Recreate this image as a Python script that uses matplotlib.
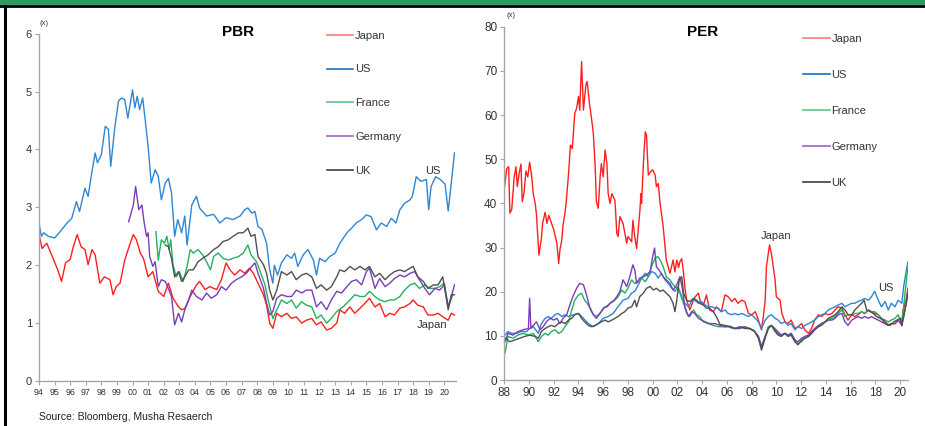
import numpy as np
import matplotlib
matplotlib.use("Agg")
import matplotlib.pyplot as plt
from matplotlib.patches import Rectangle
from matplotlib.lines import Line2D

plt.rcParams['font.family'] = ['Liberation Sans', 'DejaVu Sans']

# ---------------- PBR (left panel) ----------------
pbr_jp_t = [1994.0, 1994.2, 1994.5, 1994.9, 1995.2, 1995.45, 1995.7, 1996.0, 1996.2, 1996.45, 1996.7, 1996.95,
            1997.15, 1997.4, 1997.6, 1997.9, 1998.2, 1998.55, 1998.75, 1998.95, 1999.2, 1999.5, 1999.85, 2000.05,
            2000.25, 2000.5, 2000.7, 2001.0, 2001.3, 2001.65, 2002.0, 2002.3, 2002.6, 2002.95, 2003.15, 2003.35,
            2003.7, 2004.1, 2004.3, 2004.65, 2004.95, 2005.4, 2005.7, 2006.0, 2006.25, 2006.55, 2006.9, 2007.2,
            2007.5, 2007.75, 2008.05, 2008.4, 2008.6, 2008.8, 2009.0, 2009.25, 2009.55, 2009.9, 2010.2, 2010.5,
            2010.85, 2011.15, 2011.5, 2011.8, 2012.1, 2012.45, 2012.75, 2013.1, 2013.3, 2013.6, 2013.95, 2014.25,
            2014.6, 2014.9, 2015.2, 2015.55, 2015.85, 2016.2, 2016.5, 2016.8, 2017.15, 2017.45, 2017.8, 2018.0,
            2018.3, 2018.65, 2018.95, 2019.3, 2019.6, 2019.9, 2020.25, 2020.45, 2020.65]
pbr_jp = [2.53, 2.29, 2.38, 2.12, 1.92, 1.72, 2.04, 2.10, 2.32, 2.53, 2.32, 2.27,
          2.01, 2.27, 2.18, 1.69, 1.80, 1.75, 1.49, 1.63, 1.69, 2.09, 2.38, 2.53,
          2.44, 2.21, 2.12, 1.80, 1.89, 1.55, 1.46, 1.69, 1.43, 1.28, 1.23, 1.25,
          1.46, 1.66, 1.72, 1.58, 1.63, 1.58, 1.75, 2.04, 1.92, 1.83, 1.92, 1.86,
          1.95, 1.86, 1.69, 1.49, 1.31, 1.00, 0.91, 1.17, 1.11, 1.17, 1.08, 1.11,
          1.00, 1.05, 1.08, 0.97, 1.02, 0.88, 0.91, 1.00, 1.23, 1.17, 1.28, 1.17,
          1.26, 1.34, 1.43, 1.28, 1.34, 1.11, 1.17, 1.14, 1.26, 1.28, 1.34, 1.40,
          1.31, 1.28, 1.14, 1.14, 1.17, 1.11, 1.05, 1.17, 1.14]

pbr_us_t = [1994.0, 1994.15, 1994.3, 1994.6, 1995.0, 1995.35, 1995.8, 1996.1, 1996.4, 1996.6, 1996.95, 1997.15,
            1997.4, 1997.6, 1997.75, 1998.0, 1998.25, 1998.45, 1998.6, 1998.85, 1999.1, 1999.3, 1999.5, 1999.7,
            2000.0, 2000.15, 2000.3, 2000.45, 2000.65, 2000.8, 2001.0, 2001.2, 2001.45, 2001.65, 2001.85, 2002.1,
            2002.3, 2002.5, 2002.7, 2002.9, 2003.15, 2003.35, 2003.5, 2003.8, 2004.1, 2004.3, 2004.75, 2005.2,
            2005.6, 2006.0, 2006.45, 2006.9, 2007.2, 2007.4, 2007.65, 2007.85, 2008.05, 2008.3, 2008.6, 2008.8,
            2009.0, 2009.1, 2009.3, 2009.55, 2009.9, 2010.2, 2010.4, 2010.6, 2010.95, 2011.25, 2011.6, 2011.8,
            2012.0, 2012.35, 2012.65, 2013.0, 2013.3, 2013.75, 2014.05, 2014.35, 2014.7, 2015.0, 2015.3, 2015.65,
            2015.95, 2016.3, 2016.6, 2016.9, 2017.15, 2017.45, 2017.8, 2017.95, 2018.2, 2018.5, 2018.85, 2019.0,
            2019.15, 2019.45, 2019.75, 2020.05, 2020.25, 2020.4, 2020.65]
pbr_us = [2.73, 2.50, 2.56, 2.50, 2.47, 2.58, 2.73, 2.81, 3.10, 2.93, 3.33, 3.19,
          3.62, 3.94, 3.77, 3.91, 4.40, 4.35, 3.71, 4.35, 4.84, 4.89, 4.86, 4.54,
          5.03, 4.72, 4.92, 4.69, 4.89, 4.54, 4.05, 3.42, 3.65, 3.54, 3.13, 3.42,
          3.50, 3.25, 2.50, 2.79, 2.56, 2.85, 2.35, 3.04, 3.19, 2.99, 2.85, 2.88,
          2.73, 2.82, 2.79, 2.85, 2.96, 2.99, 2.90, 2.93, 2.67, 2.62, 2.38, 1.92,
          1.69, 2.00, 1.83, 2.04, 2.18, 2.12, 2.21, 1.98, 2.18, 2.27, 2.09, 1.83,
          2.12, 2.06, 2.15, 2.21, 2.38, 2.56, 2.64, 2.73, 2.79, 2.87, 2.84, 2.61,
          2.73, 2.67, 2.81, 2.73, 2.96, 3.07, 3.13, 3.19, 3.53, 3.45, 3.48, 2.96,
          3.36, 3.53, 3.48, 3.40, 2.94, 3.30, 3.94]

pbr_fr_t = [2001.5, 2001.65, 2001.85, 2002.05, 2002.2, 2002.35, 2002.45, 2002.6, 2002.8, 2003.0, 2003.25, 2003.5,
            2003.7, 2003.9, 2004.2, 2004.5, 2004.75, 2005.0, 2005.2, 2005.5, 2005.8, 2006.15, 2006.45, 2006.8,
            2007.1, 2007.4, 2007.6, 2007.95, 2008.15, 2008.5, 2008.7, 2009.0, 2009.25, 2009.55, 2009.9, 2010.2,
            2010.5, 2010.85, 2011.15, 2011.5, 2011.8, 2012.1, 2012.45, 2012.75, 2013.1, 2013.5, 2013.95, 2014.25,
            2014.6, 2014.9, 2015.2, 2015.55, 2015.85, 2016.2, 2016.5, 2016.8, 2017.15, 2017.45, 2017.8, 2018.1,
            2018.4, 2018.75, 2019.05, 2019.4, 2019.7, 2020.0, 2020.25, 2020.55]
pbr_fr = [2.58, 2.09, 2.44, 2.38, 2.50, 2.27, 2.44, 2.00, 1.80, 1.89, 1.72, 1.98,
          2.27, 2.21, 2.27, 2.18, 2.06, 1.92, 2.15, 2.21, 2.12, 2.09, 2.12, 2.15,
          2.21, 2.35, 2.18, 2.06, 1.92, 1.66, 1.40, 1.08, 1.23, 1.40, 1.34, 1.40,
          1.26, 1.37, 1.31, 1.28, 1.08, 1.14, 1.00, 1.08, 1.20, 1.28, 1.40, 1.49,
          1.46, 1.46, 1.55, 1.46, 1.40, 1.37, 1.40, 1.40, 1.46, 1.57, 1.66, 1.69,
          1.60, 1.66, 1.60, 1.60, 1.63, 1.69, 1.28, 1.49]

pbr_de_t = [1999.75, 2000.05, 2000.2, 2000.4, 2000.6, 2000.75, 2000.9, 2001.0, 2001.1, 2001.3, 2001.45, 2001.65,
            2001.85, 2002.1, 2002.3, 2002.5, 2002.7, 2002.95, 2003.15, 2003.35, 2003.6, 2003.8, 2004.1, 2004.45,
            2004.75, 2005.05, 2005.4, 2005.7, 2006.0, 2006.35, 2006.65, 2007.0, 2007.3, 2007.65, 2007.85, 2008.05,
            2008.4, 2008.6, 2008.8, 2009.0, 2009.25, 2009.55, 2009.9, 2010.2, 2010.5, 2010.85, 2011.15, 2011.5,
            2011.8, 2012.1, 2012.45, 2012.75, 2013.1, 2013.4, 2013.75, 2014.05, 2014.35, 2014.7, 2015.0, 2015.2,
            2015.55, 2015.85, 2016.2, 2016.5, 2016.8, 2017.15, 2017.45, 2017.8, 2018.1, 2018.4, 2018.75, 2019.05,
            2019.4, 2019.7, 2020.0, 2020.25, 2020.45, 2020.65]
pbr_de = [2.75, 3.04, 3.36, 2.96, 3.04, 2.73, 2.50, 2.56, 2.15, 1.98, 2.06, 1.63,
          1.75, 1.72, 1.60, 1.46, 0.97, 1.17, 1.02, 1.23, 1.40, 1.57, 1.46, 1.40,
          1.52, 1.43, 1.49, 1.63, 1.57, 1.69, 1.75, 1.80, 1.86, 1.98, 2.04, 1.86,
          1.60, 1.34, 1.14, 1.20, 1.43, 1.49, 1.46, 1.46, 1.57, 1.52, 1.57, 1.57,
          1.28, 1.37, 1.23, 1.40, 1.55, 1.52, 1.63, 1.72, 1.75, 1.66, 1.89, 1.95,
          1.60, 1.77, 1.63, 1.69, 1.77, 1.83, 1.80, 1.86, 1.89, 1.75, 1.60, 1.49,
          1.60, 1.57, 1.66, 1.28, 1.46, 1.66]

pbr_uk_t = [2002.1, 2002.3, 2002.5, 2002.7, 2002.95, 2003.15, 2003.35, 2003.6, 2003.9, 2004.2, 2004.5, 2004.85,
            2005.2, 2005.5, 2005.8, 2006.15, 2006.45, 2006.8, 2007.1, 2007.4, 2007.6, 2007.85, 2008.05, 2008.4,
            2008.6, 2008.8, 2009.0, 2009.25, 2009.55, 2009.9, 2010.2, 2010.5, 2010.85, 2011.15, 2011.5, 2011.8,
            2012.1, 2012.45, 2012.75, 2013.1, 2013.3, 2013.6, 2013.95, 2014.25, 2014.6, 2014.9, 2015.2, 2015.55,
            2015.85, 2016.2, 2016.5, 2016.8, 2017.15, 2017.45, 2017.8, 2018.0, 2018.3, 2018.65, 2018.95, 2019.3,
            2019.6, 2019.9, 2020.25, 2020.45, 2020.65]
pbr_uk = [2.35, 2.32, 2.12, 1.80, 1.89, 1.72, 1.80, 1.92, 1.92, 2.06, 2.12, 2.18,
          2.27, 2.32, 2.41, 2.44, 2.50, 2.56, 2.56, 2.64, 2.50, 2.53, 2.15, 2.01,
          1.86, 1.57, 1.40, 1.57, 1.89, 1.83, 1.89, 1.75, 1.83, 1.86, 1.80, 1.60,
          1.66, 1.57, 1.63, 1.80, 1.92, 1.89, 1.98, 1.92, 1.98, 1.92, 1.98, 1.80,
          1.86, 1.75, 1.83, 1.89, 1.92, 1.89, 1.95, 1.98, 1.80, 1.72, 1.60, 1.66,
          1.66, 1.80, 1.23, 1.49, 1.49]

# ---------------- PER (right panel) ----------------
per_jp_t = [1988.0, 1988.2, 1988.35, 1988.45, 1988.6, 1988.8, 1988.95, 1989.05, 1989.2, 1989.35, 1989.45, 1989.6,
            1989.75, 1989.9, 1990.05, 1990.2, 1990.35, 1990.5, 1990.6, 1990.8, 1991.0, 1991.1, 1991.3, 1991.45,
            1991.6, 1992.0, 1992.25, 1992.4, 1992.5, 1992.65, 1992.75, 1992.9, 1993.0, 1993.2, 1993.35, 1993.5,
            1993.7, 1993.85, 1994.0, 1994.1, 1994.25, 1994.4, 1994.6, 1994.7, 1994.9, 1995.0, 1995.2, 1995.35,
            1995.45, 1995.6, 1995.75, 1995.85, 1996.0, 1996.15, 1996.3, 1996.4, 1996.55, 1996.7, 1996.95, 1997.1,
            1997.2, 1997.35, 1997.6, 1997.9, 1998.0, 1998.3, 1998.4, 1998.55, 1998.7, 1998.85, 1998.97, 1999.05,
            1999.1, 1999.25, 1999.4, 1999.5, 1999.65, 1999.85, 2000.0, 2000.2, 2000.3, 2000.45, 2000.6, 2000.85,
            2000.95, 2001.1, 2001.25, 2001.4, 2001.65, 2001.8, 2001.95, 2002.1, 2002.2, 2002.35, 2002.5, 2002.6,
            2002.75, 2003.0, 2003.3, 2003.45, 2003.7, 2003.85, 2004.1, 2004.35, 2004.6, 2004.9, 2005.15, 2005.55,
            2005.85, 2006.1, 2006.4, 2006.65, 2006.9, 2007.2, 2007.45, 2007.75, 2008.0, 2008.3, 2008.55, 2008.8,
            2008.95, 2009.1, 2009.2, 2009.45, 2009.6, 2009.9, 2010.0, 2010.3, 2010.45, 2010.7, 2010.95, 2011.2,
            2011.5, 2011.75, 2012.05, 2012.3, 2012.6, 2012.85, 2013.1, 2013.4, 2013.65, 2013.95, 2014.2, 2014.5,
            2014.75, 2015.0, 2015.3, 2015.55, 2015.8, 2016.1, 2016.35, 2016.6, 2016.9, 2017.15, 2017.45, 2017.7,
            2017.95, 2018.25, 2018.5, 2018.8, 2019.05, 2019.3, 2019.6, 2019.85, 2020.15, 2020.25, 2020.5, 2020.65]
per_jp = [43.4, 47.9, 48.3, 37.8, 38.6, 46.0, 48.3, 43.8, 46.8, 48.9, 40.4, 42.5,
          47.3, 46.0, 49.3, 46.5, 42.0, 40.0, 37.5, 28.3, 32.1, 35.5, 38.0, 35.5,
          37.3, 34.0, 31.0, 26.4, 29.5, 31.7, 35.1, 37.7, 40.0, 46.8, 53.2, 52.4,
          60.4, 61.5, 64.2, 61.1, 72.1, 61.1, 66.8, 67.6, 62.3, 60.4, 55.9, 48.3,
          40.4, 38.9, 46.0, 49.0, 46.0, 52.1, 49.0, 42.2, 40.0, 42.2, 40.7, 33.2,
          32.5, 37.0, 35.5, 31.0, 32.5, 31.3, 36.2, 32.5, 29.8, 34.7, 38.5, 42.2,
          40.0, 49.0, 56.2, 55.4, 46.4, 47.2, 47.6, 46.4, 43.8, 44.5, 40.0, 34.7,
          31.7, 27.2, 25.7, 24.2, 27.2, 24.5, 27.2, 25.5, 26.8, 27.5, 24.2, 21.2,
          18.1, 15.9, 18.1, 18.9, 19.7, 17.8, 17.0, 19.3, 15.9, 15.5, 16.6, 15.5,
          19.3, 18.9, 17.8, 18.5, 17.4, 18.1, 17.8, 15.1, 14.8, 15.5, 13.6, 11.4,
          14.4, 18.1, 25.7, 30.6, 28.7, 22.7, 18.9, 18.1, 15.1, 13.2, 12.8, 13.6,
          11.7, 12.1, 12.8, 11.4, 10.6, 11.7, 13.6, 14.8, 14.4, 15.1, 14.8, 15.1,
          15.9, 16.6, 16.3, 14.8, 13.6, 14.8, 14.4, 14.8, 15.5, 15.1, 15.9, 15.5,
          15.1, 14.8, 14.0, 12.8, 12.4, 12.8, 12.8, 13.6, 12.8, 15.9, 18.1, 20.8]

per_us_t = [1988.05, 1988.3, 1988.6, 1989.0, 1989.4, 1989.8, 1990.05, 1990.35, 1990.75, 1991.0, 1991.3, 1991.55,
            1991.8, 1992.1, 1992.35, 1992.65, 1992.9, 1993.2, 1993.6, 1994.0, 1994.4, 1994.8, 1995.2, 1995.6,
            1996.0, 1996.4, 1996.8, 1997.2, 1997.6, 1998.0, 1998.3, 1998.55, 1998.85, 1999.1, 1999.4, 1999.65,
            1999.9, 2000.2, 2000.45, 2000.7, 2001.0, 2001.25, 2001.55, 2001.8, 2002.05, 2002.35, 2002.6, 2002.9,
            2003.15, 2003.4, 2003.7, 2003.95, 2004.25, 2004.5, 2004.8, 2005.05, 2005.3, 2005.55, 2005.85, 2006.1,
            2006.4, 2006.65, 2006.9, 2007.2, 2007.45, 2007.75, 2008.0, 2008.3, 2008.55, 2008.8, 2009.1, 2009.35,
            2009.6, 2009.9, 2010.15, 2010.4, 2010.7, 2010.95, 2011.2, 2011.5, 2011.75, 2012.05, 2012.3, 2012.6,
            2012.85, 2013.1, 2013.4, 2013.65, 2013.95, 2014.2, 2014.5, 2014.75, 2015.0, 2015.3, 2015.55, 2015.8,
            2016.1, 2016.35, 2016.6, 2016.9, 2017.15, 2017.45, 2017.7, 2017.95, 2018.25, 2018.5, 2018.8, 2019.05,
            2019.3, 2019.6, 2019.85, 2020.15, 2020.3, 2020.5, 2020.65]
per_us = [10.2, 11.0, 10.6, 10.6, 11.0, 11.0, 11.7, 12.1, 10.6, 12.8, 14.0, 14.4,
          14.0, 14.8, 15.1, 14.4, 14.8, 14.4, 14.8, 15.1, 14.0, 12.8, 12.1, 12.8,
          14.0, 14.4, 15.1, 16.6, 18.1, 18.5, 19.7, 20.1, 21.6, 23.1, 24.2, 23.4,
          24.6, 24.2, 23.1, 24.2, 22.7, 21.9, 20.8, 20.1, 21.2, 18.9, 17.4, 16.6,
          17.8, 18.1, 17.4, 17.8, 17.0, 16.6, 16.6, 16.3, 16.3, 15.5, 15.9, 15.1,
          14.8, 15.1, 14.8, 15.1, 14.8, 14.4, 14.8, 14.0, 13.2, 11.7, 13.6, 14.4,
          14.8, 14.0, 13.6, 12.8, 13.2, 12.4, 12.8, 11.4, 12.1, 11.7, 12.4, 12.8,
          13.2, 13.6, 14.4, 14.8, 15.1, 15.9, 16.3, 16.6, 17.0, 17.4, 16.6, 17.0,
          17.4, 17.4, 17.8, 18.1, 18.5, 18.1, 18.9, 20.1, 18.1, 16.6, 17.8, 15.9,
          17.4, 16.6, 18.1, 17.4, 21.2, 24.6, 26.8]

per_fr_t = [1988.05, 1988.15, 1988.3, 1988.7, 1989.1, 1989.55, 1989.95, 1990.35, 1990.75, 1991.0, 1991.3, 1991.55,
            1991.8, 1992.1, 1992.4, 1992.65, 1992.9, 1993.2, 1993.45, 1993.7, 1994.0, 1994.25, 1994.5, 1994.8,
            1995.05, 1995.35, 1995.6, 1995.85, 1996.15, 1996.4, 1996.7, 1996.95, 1997.2, 1997.5, 1997.75, 1998.0,
            1998.3, 1998.55, 1998.85, 1999.1, 1999.4, 1999.65, 1999.9, 2000.2, 2000.4, 2000.6, 2000.85, 2001.1,
            2001.4, 2001.65, 2001.95, 2002.2, 2002.5, 2002.75, 2003.0, 2003.3, 2003.55, 2003.8, 2004.1, 2004.5,
            2004.9, 2005.3, 2005.7, 2006.1, 2006.5, 2006.9, 2007.3, 2007.7, 2008.15, 2008.55, 2008.8, 2009.1,
            2009.35, 2009.6, 2009.9, 2010.15, 2010.4, 2010.7, 2010.95, 2011.2, 2011.5, 2011.75, 2012.05, 2012.3,
            2012.6, 2012.85, 2013.1, 2013.4, 2013.65, 2013.95, 2014.2, 2014.5, 2014.75, 2015.0, 2015.3, 2015.55,
            2015.8, 2016.1, 2016.35, 2016.6, 2016.9, 2017.15, 2017.45, 2017.7, 2017.95, 2018.25, 2018.5, 2018.8,
            2019.05, 2019.3, 2019.6, 2019.85, 2020.15, 2020.35, 2020.55, 2020.65]
per_fr = [6.1, 7.5, 9.9, 9.5, 10.2, 10.6, 10.2, 10.6, 8.7, 9.9, 10.6, 10.2,
          11.0, 11.4, 10.6, 11.0, 12.1, 13.2, 15.9, 18.1, 19.3, 19.7, 18.1, 17.0,
          15.5, 14.4, 14.8, 15.5, 16.6, 17.0, 17.8, 18.1, 18.9, 20.4, 19.7, 20.8,
          22.7, 21.9, 22.3, 23.1, 22.3, 23.4, 25.7, 27.6, 28.0, 27.2, 25.7, 23.4,
          22.7, 21.6, 20.8, 19.7, 17.4, 15.1, 14.4, 15.9, 14.8, 14.4, 13.2, 12.8,
          12.4, 12.1, 12.1, 12.1, 11.7, 11.7, 12.1, 11.7, 11.4, 9.9, 7.6, 9.9,
          12.1, 12.4, 11.7, 11.0, 10.2, 10.6, 10.2, 10.6, 9.1, 8.3, 8.7, 9.5,
          9.9, 10.6, 11.4, 12.1, 12.8, 13.2, 13.6, 14.0, 14.4, 15.1, 15.9, 14.4,
          14.8, 14.8, 15.1, 15.1, 15.5, 15.1, 15.9, 15.5, 15.5, 14.8, 14.0, 13.6,
          13.2, 13.6, 14.0, 14.8, 12.8, 18.1, 23.4, 26.0]

per_de_t = [1988.05, 1988.3, 1988.7, 1989.1, 1989.5, 1989.95, 1990.05, 1990.15, 1990.35, 1990.6, 1990.9, 1991.15,
            1991.4, 1991.7, 1992.0, 1992.25, 1992.5, 1992.75, 1993.05, 1993.3, 1993.6, 1993.85, 1994.1, 1994.4,
            1994.65, 1994.9, 1995.2, 1995.45, 1995.75, 1996.0, 1996.3, 1996.55, 1996.8, 1997.1, 1997.35, 1997.6,
            1997.9, 1998.15, 1998.4, 1998.55, 1998.7, 1998.95, 1999.25, 1999.5, 1999.8, 2000.0, 2000.15, 2000.3,
            2000.6, 2000.85, 2001.1, 2001.4, 2001.65, 2001.95, 2002.2, 2002.4, 2002.6, 2002.9, 2003.15, 2003.4,
            2003.7, 2003.95, 2004.25, 2004.6, 2005.05, 2005.45, 2005.85, 2006.25, 2006.65, 2007.05, 2007.45, 2007.85,
            2008.25, 2008.55, 2008.8, 2009.1, 2009.35, 2009.6, 2009.9, 2010.15, 2010.4, 2010.7, 2010.95, 2011.2,
            2011.5, 2011.75, 2012.05, 2012.3, 2012.6, 2012.85, 2013.1, 2013.4, 2013.65, 2013.95, 2014.2, 2014.5,
            2014.75, 2015.0, 2015.3, 2015.55, 2015.8, 2016.1, 2016.35, 2016.6, 2016.9, 2017.15, 2017.45, 2017.7,
            2017.95, 2018.25, 2018.5, 2018.8, 2019.05, 2019.3, 2019.6, 2019.85, 2020.15, 2020.35, 2020.55, 2020.65]
per_de = [8.7, 10.6, 10.2, 11.0, 11.4, 11.7, 18.5, 11.7, 12.4, 13.2, 11.4, 12.1,
          13.2, 14.0, 13.6, 14.0, 12.8, 14.0, 14.8, 17.0, 19.3, 20.8, 21.9, 21.6,
          19.3, 16.6, 14.8, 14.0, 15.1, 16.3, 16.6, 17.4, 17.8, 18.9, 20.1, 22.7,
          21.2, 23.4, 26.1, 25.0, 21.9, 23.1, 23.4, 23.8, 24.6, 28.0, 29.9, 25.7,
          24.6, 23.4, 22.7, 21.9, 20.4, 21.6, 23.4, 20.8, 16.6, 14.4, 15.5, 15.1,
          14.0, 13.6, 13.2, 12.8, 12.8, 12.4, 12.1, 12.2, 11.7, 11.7, 12.1, 11.7,
          11.0, 9.9, 7.6, 9.9, 11.7, 12.4, 11.4, 10.6, 10.2, 10.6, 10.2, 10.6,
          9.1, 8.7, 9.5, 9.9, 10.2, 11.0, 11.7, 12.4, 12.8, 13.2, 13.6, 13.6,
          14.0, 14.8, 15.1, 13.2, 12.4, 13.6, 14.0, 14.4, 14.0, 14.4, 14.0, 14.4,
          14.0, 13.6, 13.2, 12.8, 12.4, 12.8, 12.8, 13.6, 12.4, 15.1, 18.1, 20.8]

per_uk_t = [1988.05, 1988.45, 1988.85, 1989.25, 1989.65, 1990.05, 1990.5, 1990.75, 1991.0, 1991.3, 1991.55, 1991.8,
            1992.1, 1992.35, 1992.65, 1992.9, 1993.2, 1993.45, 1993.7, 1994.0, 1994.25, 1994.5, 1994.8, 1995.05,
            1995.35, 1995.6, 1995.85, 1996.15, 1996.4, 1996.7, 1996.95, 1997.2, 1997.5, 1997.75, 1998.0, 1998.3,
            1998.55, 1998.7, 1998.95, 1999.25, 1999.5, 1999.8, 2000.05, 2000.3, 2000.6, 2000.85, 2001.1, 2001.4,
            2001.65, 2001.8, 2001.95, 2002.15, 2002.35, 2002.5, 2002.75, 2003.0, 2003.3, 2003.55, 2003.8, 2004.1,
            2004.35, 2004.6, 2004.9, 2005.15, 2005.45, 2005.85, 2006.25, 2006.65, 2007.05, 2007.45, 2007.85, 2008.25,
            2008.55, 2008.8, 2009.1, 2009.35, 2009.6, 2009.9, 2010.15, 2010.4, 2010.7, 2010.95, 2011.2, 2011.5,
            2011.75, 2012.05, 2012.3, 2012.6, 2012.85, 2013.1, 2013.4, 2013.65, 2013.95, 2014.2, 2014.5, 2014.75,
            2015.0, 2015.3, 2015.55, 2015.8, 2016.1, 2016.35, 2016.6, 2016.9, 2017.1, 2017.3, 2017.6, 2017.85,
            2018.1, 2018.4, 2018.65, 2018.95, 2019.2, 2019.5, 2019.75, 2020.05, 2020.15, 2020.4, 2020.55, 2020.65]
per_uk = [9.5, 8.7, 9.1, 9.5, 9.9, 10.2, 9.9, 9.5, 11.0, 11.7, 12.1, 12.4,
          12.1, 12.8, 13.2, 12.8, 13.6, 14.0, 14.8, 15.1, 14.0, 13.2, 12.4, 12.1,
          12.4, 12.8, 13.2, 13.6, 13.2, 13.6, 14.0, 14.4, 15.1, 15.5, 16.3, 16.6,
          18.1, 16.6, 18.9, 19.7, 20.8, 21.2, 20.4, 20.8, 20.1, 20.4, 19.7, 18.9,
          17.4, 15.5, 18.1, 22.7, 23.4, 19.7, 18.1, 17.8, 18.5, 18.1, 17.4, 17.0,
          16.3, 16.3, 15.5, 14.4, 12.6, 12.4, 12.1, 11.7, 12.1, 11.7, 11.7, 11.0,
          9.5, 6.8, 9.5, 11.7, 12.4, 11.0, 10.2, 9.9, 10.6, 9.9, 10.2, 8.7,
          8.0, 9.1, 9.5, 9.9, 10.6, 11.4, 12.1, 12.4, 13.2, 14.0, 14.4, 14.8,
          15.5, 16.6, 15.9, 14.8, 14.8, 15.9, 16.6, 17.4, 18.1, 15.9, 15.5, 15.1,
          14.4, 14.0, 13.6, 12.8, 12.4, 13.2, 13.6, 14.0, 12.3, 15.9, 18.1, 19.7]

countries = ['Japan', 'US', 'France', 'Germany', 'UK']
line_colors = ['#ff1f1f', '#2e86d4', '#23b060', '#7a3db8', '#505050']
legend_colors = ['#ff7a7a', '#1672c4', '#55c98a', '#9b62cf', '#404040']

pbr_t = [pbr_jp_t, pbr_us_t, pbr_fr_t, pbr_de_t, pbr_uk_t]
pbr_v = [pbr_jp, pbr_us, pbr_fr, pbr_de, pbr_uk]
per_t = [per_jp_t, per_us_t, per_fr_t, per_de_t, per_uk_t]
per_v = [per_jp, per_us, per_fr, per_de, per_uk]

pbr_years = list(range(1994, 2021))
per_years = list(range(1988, 2021, 2))

W, H = 925, 426
fig = plt.figure(figsize=(W / 100, H / 100), dpi=100)
fig.patch.set_facecolor('white')

# frame bits of the original slide
fig.patches.append(Rectangle((0, 1 - 4.5 / H), 1, 4.5 / H, transform=fig.transFigure,
                             facecolor='#2f9863', edgecolor='none'))
fig.add_artist(Line2D([0, 1], [1 - 5.5 / H, 1 - 5.5 / H], transform=fig.transFigure,
                      color='black', lw=2.0))
fig.add_artist(Line2D([4.5 / W, 4.5 / W], [0, 1 - 5.5 / H], transform=fig.transFigure,
                      color='black', lw=2.2))

axL = fig.add_axes([39 / W, (H - 381) / H, (456 - 39) / W, (381 - 33.7) / H])
axR = fig.add_axes([504.3 / W, (H - 380.2) / H, (908 - 504.3) / W, (380.2 - 26.6) / H])

grey = '#a6a6a6'
txt = '#333333'

for ax in (axL, axR):
    for s in ('top', 'right'):
        ax.spines[s].set_visible(False)
    for s in ('left', 'bottom'):
        ax.spines[s].set_color(grey)
        ax.spines[s].set_linewidth(1.0)
    ax.tick_params(direction='out', length=3, width=0.8, color=grey, labelcolor=txt, pad=2)

# left panel
for t, v, c in zip(pbr_t, pbr_v, line_colors):
    axL.plot(t, v, color=c, lw=1.0)
axL.set_xlim(1994, 2020.75)
axL.set_ylim(0, 6)
axL.set_yticks(range(0, 7))
axL.set_xticks(pbr_years)
axL.set_xticklabels(['%02d' % (y % 100) for y in pbr_years])
axL.tick_params(axis='x', labelsize=6.4)
axL.tick_params(axis='y', labelsize=8)
axL.text(0.477, 1.005, 'PBR', transform=axL.transAxes, ha='center', va='center',
         fontsize=11, fontweight='bold')
axL.text(2019.25, 3.62, 'US', ha='center', va='center', fontsize=8, color=txt)
axL.text(2019.2, 0.97, 'Japan', ha='center', va='center', fontsize=8, color=txt)
axL.text(0, 1.03, '(x)', transform=axL.transAxes, ha='left', va='center', fontsize=5.5, color=txt)

# right panel
for t, v, c in zip(per_t, per_v, line_colors):
    axR.plot(t, v, color=c, lw=1.0)
axR.set_xlim(1988, 2020.65)
axR.set_ylim(0, 80)
axR.set_yticks(range(0, 81, 10))
axR.set_xticks(per_years)
axR.set_xticklabels(['%02d' % (y % 100) for y in per_years])
axR.tick_params(axis='both', labelsize=8.5)
axR.text(0.492, 0.985, 'PER', transform=axR.transAxes, ha='center', va='center',
         fontsize=11, fontweight='bold')
axR.text(2009.95, 32.6, 'Japan', ha='center', va='center', fontsize=8, color=txt)
axR.text(2018.85, 20.9, 'US', ha='center', va='center', fontsize=8, color=txt)
axR.text(0.005, 1.03, '(x)', transform=axR.transAxes, ha='left', va='center', fontsize=5.5, color=txt)

# legends
handles = [Line2D([], [], color=c, lw=1.2) for c in legend_colors]
axL.legend(handles, countries, loc='upper left', bbox_to_anchor=(0.69, 1.009), frameon=False,
           fontsize=8, handlelength=2.4, handletextpad=0.15, labelspacing=2.15,
           borderaxespad=0, borderpad=0, labelcolor=txt)
axR.legend(handles, countries, loc='upper left', bbox_to_anchor=(0.74, 0.979), frameon=False,
           fontsize=8, handlelength=2.4, handletextpad=0.15, labelspacing=2.33,
           borderaxespad=0, borderpad=0, labelcolor=txt)

fig.text(39 / W, 1 - 417 / H, 'Source: Bloomberg, Musha Resaerch', fontsize=7.5,
         ha='left', va='center', color='#222222')

fig.savefig('out.png', dpi=100)
